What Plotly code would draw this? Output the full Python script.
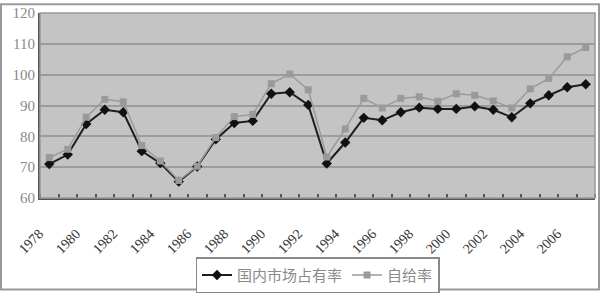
import plotly.graph_objects as go

years = list(range(1978, 2008))
share = [71.0, 74.1, 84.0, 88.6, 87.8, 75.2, 71.3, 65.3, 70.2, 79.0, 84.3, 85.0,
         93.8, 94.3, 90.2, 71.2, 78.0, 86.0, 85.2, 87.8, 89.3, 88.9, 88.9, 89.7,
         88.6, 86.2, 90.7, 93.3, 95.9, 96.9]
selfsuff = [73.1, 75.8, 86.2, 92.0, 91.2, 77.0, 72.0, 65.7, 70.3, 79.6, 86.4, 87.1,
            97.1, 100.2, 95.1, 73.3, 82.4, 92.3, 89.2, 92.3, 92.8, 91.4, 93.8, 93.3,
            91.5, 89.2, 95.4, 98.8, 105.8, 108.8]
tick_years = [1978, 1980, 1982, 1984, 1986, 1988, 1990, 1992, 1994, 1996, 1998, 2000, 2002, 2004, 2006]
tick_labels = [str(y) for y in tick_years]
y_ticks = [60, 70, 80, 90, 100, 110, 120]

fig = go.Figure()
fig.add_trace(go.Scatter(
    x=years, y=share, name="国内市场占有率", mode="lines+markers",
    line=dict(color="#1e1e1e", width=2),
    marker=dict(symbol="diamond", size=8, color="#111111"),
))
fig.add_trace(go.Scatter(
    x=years, y=selfsuff, name="自给率", mode="lines+markers",
    line=dict(color="#9a9a9a", width=1.5),
    marker=dict(symbol="square", size=7, color="#9a9a9a"),
))

fig.update_layout(
    width=600, height=298,
    margin=dict(l=40, r=5, t=10, b=96),
    paper_bgcolor="white",
    plot_bgcolor="#c4c4c4",
    showlegend=True,
    legend=dict(
        orientation="h", x=0.5, xanchor="center", y=-0.32, yanchor="top",
        bordercolor="#8a8a8a", borderwidth=1.5, bgcolor="white",
        font=dict(family="Noto Sans CJK SC", size=15, color="#8a8a8a"),
        itemwidth=30, tracegroupgap=0,
    ),
    xaxis=dict(
        range=[1977.5, 2007.5], tickmode="array", tickvals=tick_years, ticktext=tick_labels,
        tickangle=-45, ticks="", showgrid=False, zeroline=False,
        showline=True, linecolor="#555555", linewidth=2,
        tickfont=dict(family="Liberation Serif", size=14, color="#333333"),
        ticklabelstandoff=20, ticklabelshift=-10,
        minor=dict(tick0=1977.5, dtick=1, ticks="inside", ticklen=4, tickcolor="#555555", tickwidth=1.5, showgrid=False),
    ),
    yaxis=dict(
        range=[60, 120], tickmode="array", tickvals=y_ticks,
        showgrid=True, gridcolor="#9c9c9c", gridwidth=1.5, zeroline=False,
        showline=True, linecolor="#555555", linewidth=2, ticks="",
        tickfont=dict(family="Liberation Serif", size=15, color="#8a8a8a"),
    ),
    shapes=[
        dict(type="rect", xref="paper", yref="paper", x0=0, x1=1, y0=0, y1=1,
             line=dict(color="#999999", width=1.5), layer="above"),
        dict(type="rect", xref="paper", yref="paper",
             x0=(1 - 40) / 555, x1=(599 - 40) / 555, y0=(202 - 297) / 192, y1=(202 - 1) / 192,
             line=dict(color="#9a9a9a", width=2), layer="above"),
    ],
)

fig.write_html("out.html")
